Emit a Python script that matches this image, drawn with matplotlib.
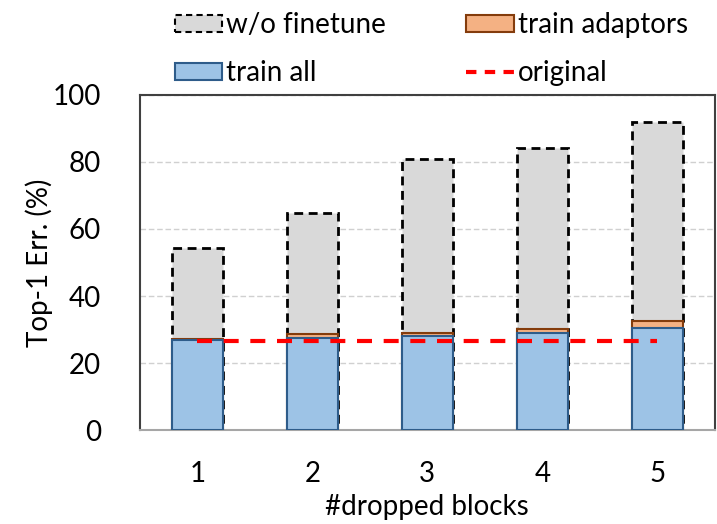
import numpy as np
import matplotlib
matplotlib.use('Agg')
import matplotlib.pyplot as plt
from matplotlib.patches import Patch
from matplotlib.lines import Line2D

### Data
blocks      = [1, 2, 3, 4, 5]
no_finetune = [54.2, 64.7, 80.9, 84.1, 92.0]
train_adapt = [27.2, 28.7, 29.1, 30.3, 32.7]
train_all   = [26.9, 27.4, 28.2, 29.1, 30.4]
original    = 26.5
yticks      = [0, 20, 40, 60, 80, 100]

### Style
plt.rcParams['font.family'] = ['Lato', 'DejaVu Sans']
fs = 20

c_grey, e_grey = '#D9D9D9', 'black'
c_orng, e_orng = '#F4B183', '#843C0C'
c_blue, e_blue = '#9DC3E6', '#2E5C8A'

fig = plt.figure(figsize=(7.17, 5.24), dpi=100)
ax = fig.add_axes([0.195, 0.179, 0.802, 0.640])

x = np.array(blocks)
w = 0.44

ax.bar(x, no_finetune, w, color=c_grey, edgecolor=e_grey,
       linewidth=2.0, linestyle=(0, (3.2, 2)), zorder=2)
ax.bar(x, train_adapt, w, color=c_orng, edgecolor=e_orng,
       linewidth=1.5, zorder=3)
ax.bar(x, train_all, w, color=c_blue, edgecolor=e_blue,
       linewidth=1.5, zorder=4)
ax.plot([x[0], x[-1]], [original, original], color='#FF0000', lw=3,
        dashes=(3.6, 2.8), zorder=5)

### Axes
ax.set_xlim(0.5, 5.5)
ax.set_ylim(0, 100)
ax.set_xticks(blocks)
ax.set_xticklabels([str(b) for b in blocks], fontsize=fs)
ax.set_yticks(yticks)
ax.set_yticklabels([str(t) for t in yticks], fontsize=fs)
ax.tick_params(axis='both', length=0)
ax.tick_params(axis='x', pad=22)
ax.tick_params(axis='y', pad=28)
ax.yaxis.grid(True, color='#D0D0D0', linestyle=(0, (4, 2)), linewidth=1)
ax.set_axisbelow(True)

for side in ['left', 'top', 'right']:
    ax.spines[side].set_color('#404040')
    ax.spines[side].set_linewidth(1.5)
ax.spines['bottom'].set_color('#A6A6A6')
ax.spines['bottom'].set_linewidth(1.5)

ax.set_ylabel('Top-1 Err. (%)', fontsize=fs, labelpad=0)
ax.set_xlabel('#dropped blocks', fontsize=fs, labelpad=5)

### Legend
handles = [
    Patch(facecolor=c_grey, edgecolor=e_grey, linewidth=1.5, linestyle=(0, (3, 2))),
    Patch(facecolor=c_blue, edgecolor=e_blue, linewidth=1.5),
    Patch(facecolor=c_orng, edgecolor=e_orng, linewidth=1.5),
    Line2D([0], [0], color='#FF0000', lw=3, dashes=(2.5, 2)),
]
labels = ['w/o finetune', 'train all', 'train adaptors', 'original']
fig.legend(handles, labels, ncol=2, loc='upper left',
           bbox_to_anchor=(0.228, 0.998), frameon=False, fontsize=fs,
           handlelength=1.7, handleheight=0.55, handletextpad=0.15,
           columnspacing=2.9, labelspacing=0.8, borderaxespad=0)

fig.savefig('out.png', dpi=100)
